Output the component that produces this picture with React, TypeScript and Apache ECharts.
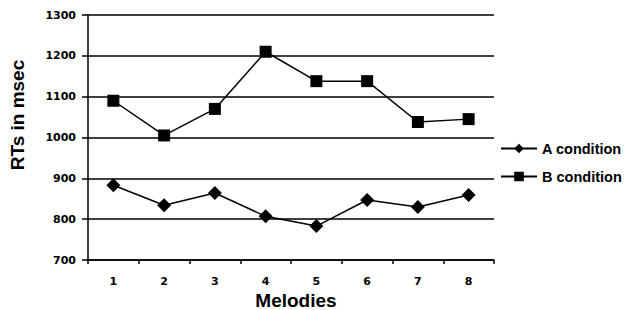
import React, { useEffect, useRef } from "react";
import * as echarts from "echarts";

const categories = ["1", "2", "3", "4", "5", "6", "7", "8"];
const aCondition = [883, 834, 864, 807, 783, 847, 830, 859];
const bCondition = [1090, 1005, 1070, 1210, 1138, 1138, 1038, 1045];
const yMin = 700;
const yMax = 1300;
const yStep = 100;
const yTitle = "RTs in msec";
const xTitle = "Melodies";

const sans = "'Liberation Sans', Arial, sans-serif";

export default function App() {
  const ref = useRef<HTMLDivElement>(null);
  useEffect(() => {
    if (!ref.current) return;
    const chart = echarts.init(ref.current, undefined, { renderer: "svg" });
    chart.setOption({
      animation: false,
      backgroundColor: "#ffffff",
      grid: { left: 88, right: 131, top: 15, bottom: 50, containLabel: false, outerBoundsMode: "none" },
      legend: {
        orient: "vertical",
        left: 500,
        top: 141,
        padding: 0,
        itemWidth: 36,
        itemHeight: 12,
        itemGap: 13,
        textStyle: { fontFamily: sans, fontWeight: "bold", fontSize: 14.5, color: "#000" },
        data: ["A condition", "B condition"],
      },
      graphic: [
        {
          type: "text",
          x: 17,
          y: 115,
          rotation: Math.PI / 2,
          style: {
            text: yTitle,
            align: "center",
            verticalAlign: "middle",
            fontFamily: sans,
            fontWeight: "bold",
            fontSize: 19,
            fill: "#000",
          },
        },
        {
          type: "text",
          x: 296,
          y: 300,
          style: {
            text: xTitle,
            align: "center",
            verticalAlign: "middle",
            fontFamily: sans,
            fontWeight: "bold",
            fontSize: 19,
            fill: "#000",
          },
        },
      ],
      xAxis: {
        type: "category",
        data: categories,
        boundaryGap: true,
        axisLine: { lineStyle: { color: "#000", width: 1.5 } },
        axisTick: { show: true, length: 4, lineStyle: { color: "#000", width: 1.5 } },
        axisLabel: { margin: 16, fontFamily: "'DejaVu Sans', sans-serif", fontWeight: "bold", fontSize: 11, color: "#000" },
        splitLine: { show: false },
      },
      yAxis: {
        type: "value",
        min: yMin,
        max: yMax,
        interval: yStep,
        axisLine: { show: true, lineStyle: { color: "#000", width: 1.5 } },
        axisTick: { show: true, length: 6, lineStyle: { color: "#000", width: 1.5 } },
        axisLabel: {
          margin: 12,
          formatter: (v: number) => String(v),
          fontFamily: "'DejaVu Sans', sans-serif",
          fontWeight: "bold",
          fontSize: 11,
          color: "#000",
        },
        splitLine: { show: true, lineStyle: { color: "#000", width: 1.5 } },
      },
      series: [
        {
          name: "A condition",
          type: "line",
          data: aCondition,
          symbol: "diamond",
          symbolSize: 14,
          itemStyle: { color: "#000" },
          lineStyle: { color: "#000", width: 1.5 },
        },
        {
          name: "B condition",
          type: "line",
          data: bCondition,
          symbol: "rect",
          symbolSize: 12,
          itemStyle: { color: "#000" },
          lineStyle: { color: "#000", width: 1.5 },
        },
      ],
    });
    return () => chart.dispose();
  }, []);
  return (
    <div
      ref={ref}
      style={{ position: "fixed", left: 0, top: 0, width: 625, height: 310 }}
    />
  );
}
